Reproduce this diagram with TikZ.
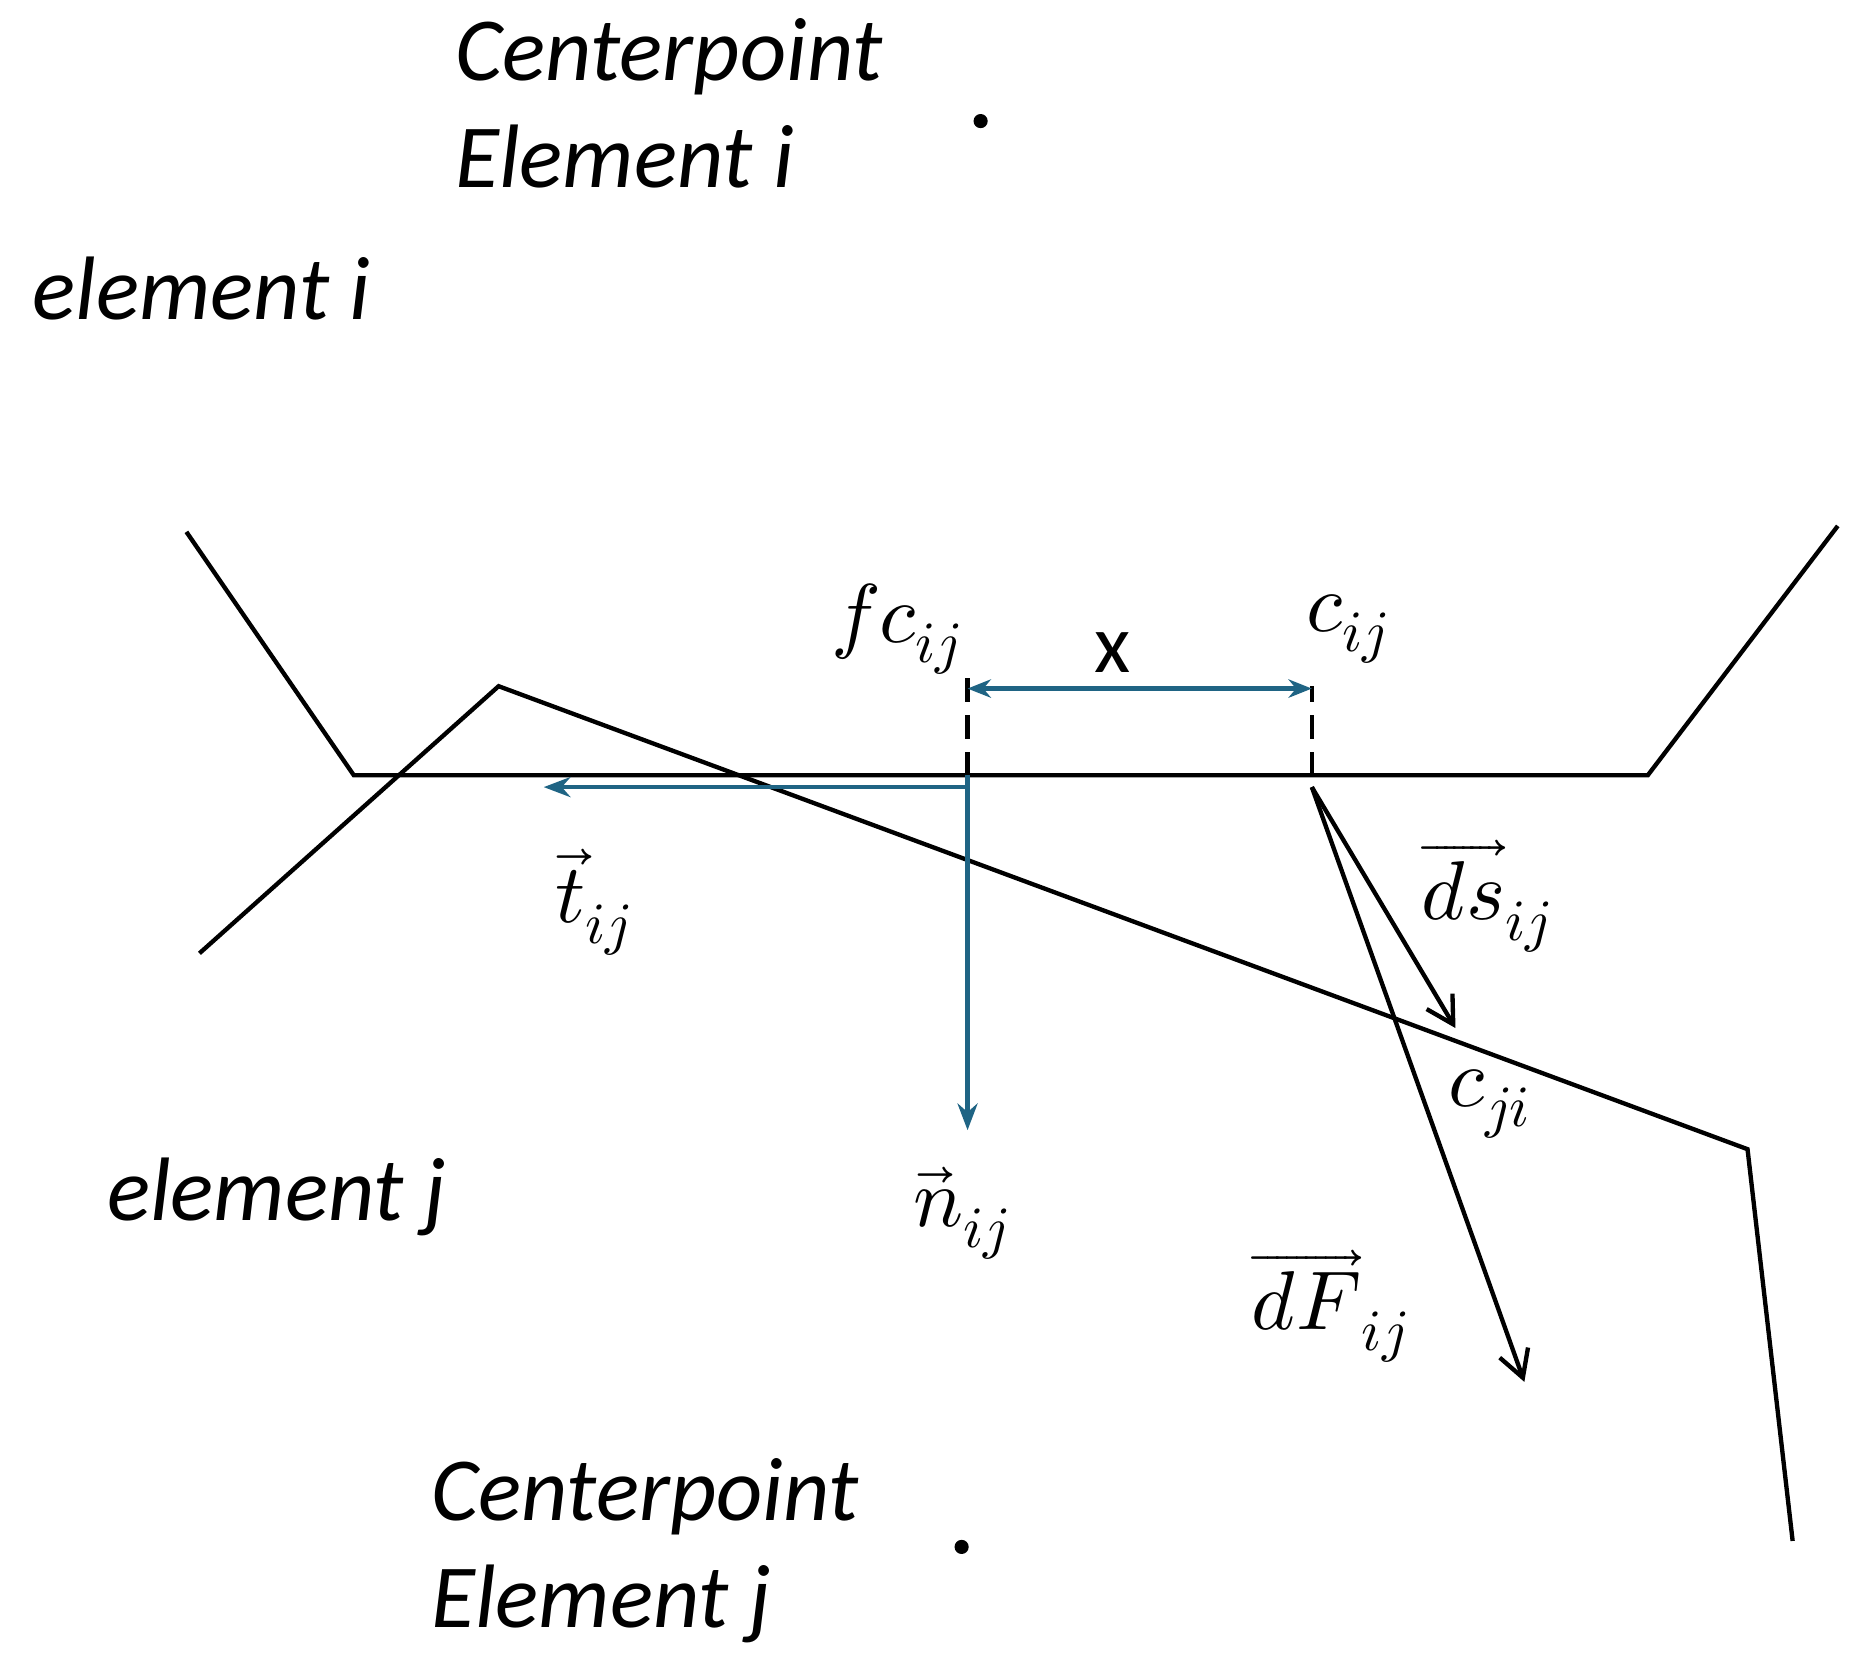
\documentclass[tikz,border=0pt]{standalone}
\usepackage{unicode-math}
\setmainfont{Carlito}
\setmathfont{Latin Modern Math}
\usetikzlibrary{arrows.meta}
\definecolor{vecblue}{RGB}{31,100,132}
\begin{document}
\begin{tikzpicture}[x=0.25mm,y=0.25mm,yscale=-1,
  edge/.style={line width=2.6pt,line join=miter},
  bluevec/.style={line width=2.6pt,color=vecblue,-{Stealth[length=16pt,width=12pt]}},
  blackvec/.style={line width=2.6pt,-{Straight Barb[length=16pt,width=18pt,line width=2.6pt]}},
  lbl/.style={font=\fontsize{54}{64}\selectfont\itshape,inner sep=0pt,align=left},
  mlbl/.style={font=\fontsize{50}{60}\selectfont,inner sep=0pt}]
  \useasboundingbox (0,0) rectangle (1560,1402);
  % element outlines
  \coordinate (i1) at (157,448); \coordinate (i2) at (298,653);
  \coordinate (i3) at (1388,653); \coordinate (i4) at (1548,443);
  \coordinate (j1) at (168,803); \coordinate (j2) at (420,578);
  \coordinate (j3) at (1472,968); \coordinate (j4) at (1510,1298);
  \draw[edge] (i1) -- (i2) -- (i3) -- (i4);
  \draw[edge] (j1) -- (j2) -- (j3) -- (j4);
  % contact points
  \coordinate (fc) at (815,653); \coordinate (fctop) at (815,568);
  \coordinate (c) at (1105,653); \coordinate (ctop) at (1105,578);
  \draw[edge,dashed,dash pattern=on 14pt off 8pt] (fc) -- (fctop);
  \draw[edge,dashed,dash pattern=on 14pt off 8pt] (c) -- (ctop);
  \coordinate (xa) at (815,580); \coordinate (xb) at (1105,580);
  \draw[line width=2.6pt,color=vecblue,{Stealth[length=14pt,width=11pt]}-{Stealth[length=14pt,width=11pt]}] (xa) -- (xb);
  % vectors
  \coordinate (tstart) at (815,663); \coordinate (tend) at (458,663);
  \coordinate (nend) at (815,952);
  \draw[bluevec] (tstart) -- (tend);
  \draw[bluevec] (fc) -- (nend);
  \coordinate (dsstart) at (1105,663); \coordinate (dsend) at (1226,866);
  \coordinate (dfend) at (1284,1164);
  \draw[blackvec] (dsstart) -- (dsend);
  \draw[blackvec] (dsstart) -- (dfend);
  % centre points
  \node[circle,fill,inner sep=3pt] (cpi) at (826,102) {};
  \node[circle,fill,inner sep=3pt] (cpj) at (810,1303) {};
  % texts
  \node[lbl,anchor=west] (txtcpi) at (383,87) {Centerpoint\\Element i};
  \node[lbl,anchor=west] (txtcpj) at (363,1306) {Centerpoint\\Element j};
  \node[lbl,anchor=west] (txtei) at (27,243) {element i};
  \node[lbl,anchor=west] (txtej) at (90,1008) {element j};
  \node[mlbl] (lx) at (937,550) {x};
  \node[mlbl] (lfc) at (755,530) {$fc_{ij}$};
  \node[mlbl] (lc) at (1135,530) {$c_{ij}$};
  \node[mlbl] (lcji) at (1255,930) {$c_{ji}$};
  \node[mlbl] (lt) at (500,760) {$\vec{t}_{ij}$};
  \node[mlbl] (ln) at (810,1022) {$\vec{n}_{ij}$};
  \node[mlbl] (lds) at (1252,755) {$\overrightarrow{ds}_{ij}$};
  \node[mlbl] (ldf) at (1120,1100) {$\overrightarrow{dF}_{ij}$};
\end{tikzpicture}
\end{document}
